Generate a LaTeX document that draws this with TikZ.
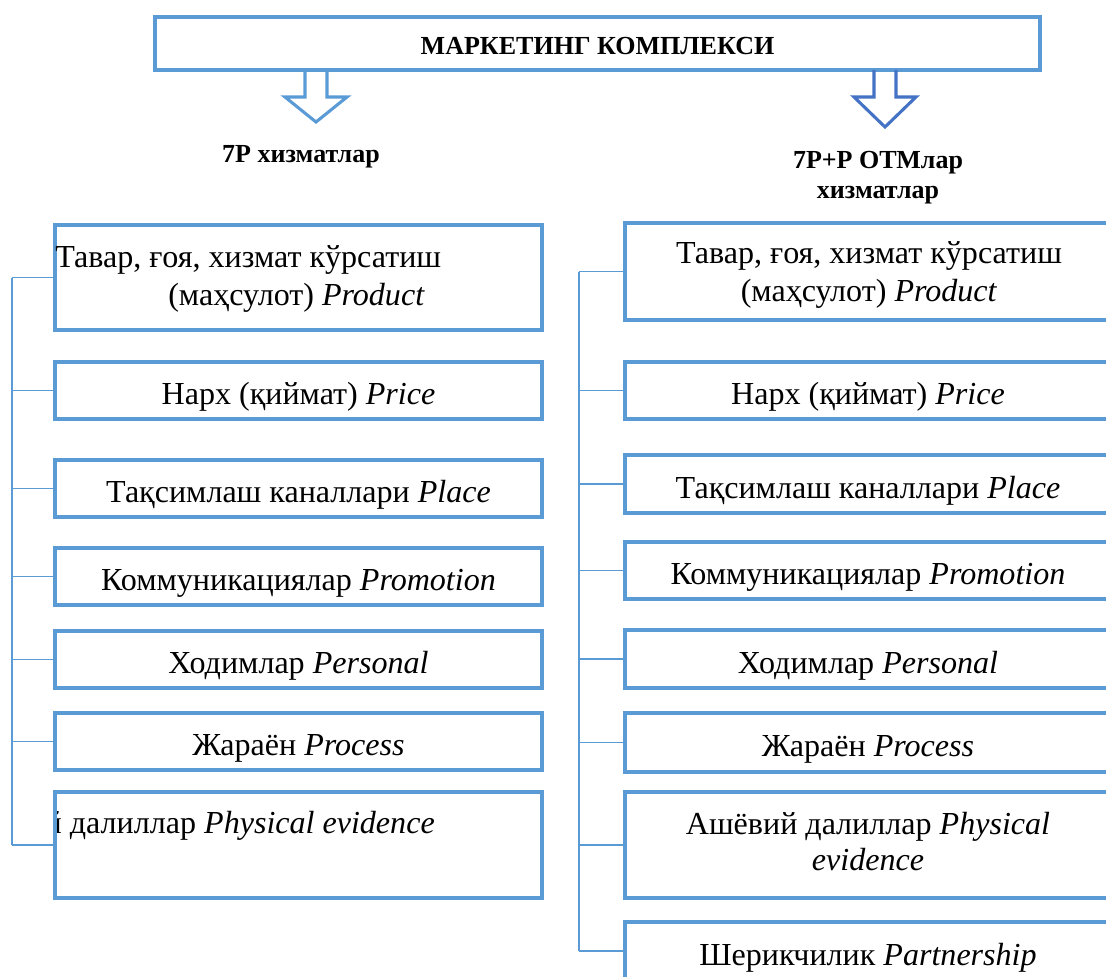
\documentclass[tikz,border=0pt]{standalone}
\usepackage{fontspec}
\setmainfont{Liberation Serif}
\usepackage{xcolor}
\usetikzlibrary{calc}
\usetikzlibrary{math}

\definecolor{boxblue}{RGB}{91,155,213}
\definecolor{arrowblue}{RGB}{68,114,196}

\newcommand{\itemfont}{\fontsize{22.8}{27}\selectfont}
\newcommand{\labelfont}{\bfseries\fontsize{18.5}{21.3}\selectfont}

\tikzset{
  item/.style 2 args={draw=boxblue, line width=3.5pt, minimum width=#1*0.025cm,
    minimum height=#2*0.025cm, inner sep=0pt, font=\itemfont, text height=25pt},
  itemtext/.style={inner sep=0pt, font=\itemfont},
  spine/.style={draw=boxblue, line width=1.4pt},
  hollow/.style={draw=#1, line width=2.2pt, line join=miter},
}

\begin{document}
\begin{tikzpicture}[x=0.025cm,y=-0.025cm]

  \tikzmath{
    \shaft = 11;  % half width of arrow shaft
    \head  = 31;  % half width of arrow head
    \neck  = 97;  % where the arrow head starts
  }

  \useasboundingbox (0,0) rectangle (1106,976);
  \clip (0,0) rectangle (1106,976);

  % top box
  \node[item={885}{53}, font=\labelfont, text height=16pt] (top) at (597.5,43.5) {МАРКЕТИНГ КОМПЛЕКСИ};

  % hollow arrows
  \draw[hollow=boxblue] (316-\shaft,70) -- (316-\shaft,\neck) -- (316-\head,\neck)
    -- (316,122) -- (316+\head,\neck) -- (316+\shaft,\neck) -- (316+\shaft,70);
  \draw[hollow=arrowblue] (885-\shaft,70) -- (885-\shaft,\neck) -- (885-\head,\neck)
    -- (885,127) -- (885+\head,\neck) -- (885+\shaft,\neck) -- (885+\shaft,70);

  % column headers
  \node[font=\labelfont] (h7p) at (301,157) {7P хизматлар};
  \node[font=\labelfont, align=center] (h7pp) at (878,178) {7P+P ОТМлар\\хизматлар};

  % left column
  \node[item={487}{105}] (l1) at (298.5,277.5) {};
  \node[itemtext, anchor=west, align=left] (l1t) at (55,278.5)
    {Тавар, ғоя, хизмат кўрсатиш\\\hspace*{2.825cm}(маҳсулот) \textit{Product}};
  \node[item={487}{57}] (l2) at (298.5,390.5) {Нарх (қиймат) \textit{Price}};
  \node[item={487}{57}] (l3) at (298.5,488.5) {Тақсимлаш каналлари \textit{Place}};
  \node[item={487}{57}] (l4) at (298.5,576.5) {Коммуникациялар \textit{Promotion}};
  \node[item={487}{57}] (l5) at (298.5,659.5) {Ходимлар \textit{Personal}};
  \node[item={487}{57}] (l6) at (298.5,741.5) {Жараён \textit{Process}};
  \node[item={487}{106}] (l7) at (298.5,845) {};
  \begin{scope}
    \clip (57,792) rectangle (542,898);
    \node[itemtext, anchor=east] (l7t) at (435,826)
      {Ашёвий далиллар \textit{Physical evidence}};
  \end{scope}

  % right column
  \node[item={486}{97}] (r1) at (868,271.5) {};
  \node[itemtext, align=center] (r1t) at (869,275)
    {Тавар, ғоя, хизмат кўрсатиш\\(маҳсулот) \textit{Product}};
  \node[item={486}{57}] (r2) at (868,390.5) {Нарх (қиймат) \textit{Price}};
  \node[item={486}{58}] (r3) at (868,484) {Тақсимлаш каналлари \textit{Place}};
  \node[item={486}{57}] (r4) at (868,570.5) {Коммуникациялар \textit{Promotion}};
  \node[item={486}{58}] (r5) at (868,659) {Ходимлар \textit{Personal}};
  \node[item={486}{59}] (r6) at (868,742.5) {Жараён \textit{Process}};
  \node[item={486}{106}] (r7) at (868,845) {};
  \node[itemtext, align=center] (r7t) at (868,841.5)
    {Ашёвий далиллар \textit{Physical}\\[-1.5pt]\textit{evidence}};
  \node[item={486}{58}] (r8) at (868,951) {Шерикчилик \textit{Partnership}};

  % brackets
  \coordinate (spL) at (12,0);
  \coordinate (spR) at (579,0);

  \draw[spine] (l1.west -| spL) -- (l7.west -| spL);
  \draw[spine] (l1.west) -- (l1.west -| spL)
               (l2.west) -- (l2.west -| spL)
               (l3.west) -- (l3.west -| spL)
               (l4.west) -- (l4.west -| spL)
               (l5.west) -- (l5.west -| spL)
               (l6.west) -- (l6.west -| spL)
               (l7.west) -- (l7.west -| spL);

  \draw[spine] (r1.west -| spR) -- (r8.west -| spR);
  \draw[spine] (r1.west) -- (r1.west -| spR)
               (r2.west) -- (r2.west -| spR)
               (r3.west) -- (r3.west -| spR)
               (r4.west) -- (r4.west -| spR)
               (r5.west) -- (r5.west -| spR)
               (r6.west) -- (r6.west -| spR)
               (r7.west) -- (r7.west -| spR)
               (r8.west) -- (r8.west -| spR);

\end{tikzpicture}
\end{document}
